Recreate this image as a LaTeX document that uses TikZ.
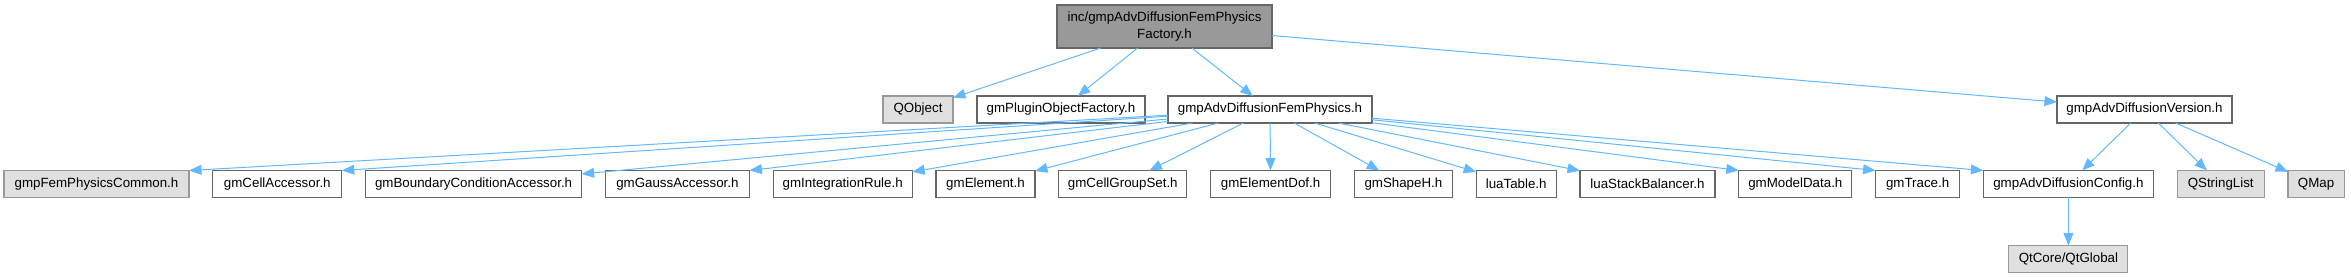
\documentclass[tikz,border=0pt]{standalone}
\usepackage{fontspec}
\setmainfont{Liberation Sans}
\usetikzlibrary{positioning,arrows.meta}
\definecolor{edgeblue}{HTML}{63B8FF}

\begin{document}
\begin{tikzpicture}[
  x=0.75pt, y=-0.75pt,
  font=\fontsize{10}{12.5}\selectfont,
  >={Triangle[length=3.3mm, width=2.6mm]},
  node distance=17.85pt,
  box/.style={draw=black!60, line width=0.8pt, fill=white, align=center,
              inner sep=2pt, outer sep=0pt, minimum height=20.25pt},
  ext/.style={box, draw=black!40, fill=black!12},
  main/.style={box, draw=black!60, fill=black!40, minimum height=32.25pt},
  wd/.style={minimum width=#1*0.75pt},
  arr/.style={->, line width=0.75pt, edgeblue},
]
\useasboundingbox (0,0) rectangle (2351,277);

%% ---------- the documented header ----------
\node[main, wd=215] (root) at (1164.5,26.5) {inc/gmpAdvDiffusionFemPhysics\\Factory.h};

%% ---------- first level ----------
\node[ext, wd=70, anchor=west] (qobj) at (883,109.5) {QObject};
\node[box, wd=168, right=18pt of qobj]     (plugin) {gmPluginObjectFactory.h};
\node[box, wd=204, right=17.25pt of plugin] (fem)   {gmpAdvDiffusionFemPhysics.h};
\node[box, wd=175] (ver) at (2144.5,109.5) {gmpAdvDiffusionVersion.h};

%% ---------- second level (one row, equal gaps) ----------
\node[ext, wd=185, anchor=west] (common) at (4,184) {gmpFemPhysicsCommon.h};
\node[box, wd=129, right=of common]   (cellacc)  {gmCellAccessor.h};
\node[box, wd=216, right=of cellacc]  (bca)      {gmBoundaryConditionAccessor.h};
\node[box, wd=144, right=of bca]      (gauss)    {gmGaussAccessor.h};
\node[box, wd=139, right=of gauss]    (intrule)  {gmIntegrationRule.h};
\node[box, wd=99,  right=of intrule]  (elem)     {gmElement.h};
\node[box, wd=128, right=of elem]     (cgs)      {gmCellGroupSet.h};
\node[box, wd=120, right=of cgs]      (edof)     {gmElementDof.h};
\node[box, wd=98,  right=of edof]     (shape)    {gmShapeH.h};
\node[box, wd=80,  right=of shape]    (luatab)   {luaTable.h};
\node[box, wd=135, right=of luatab]   (luastack) {luaStackBalancer.h};
\node[box, wd=113, right=of luastack] (model)    {gmModelData.h};
\node[box, wd=84,  right=of model]    (trace)    {gmTrace.h};
\node[box, wd=170, right=of trace]    (config)   {gmpAdvDiffusionConfig.h};
\node[ext, wd=87,  right=of config]   (qsl)      {QStringList};
\node[ext, wd=56,  right=of qsl]      (qmap)     {QMap};

%% ---------- third level ----------
\node[ext, wd=119, below=36pt of config] (qtglobal) {QtCore/QtGlobal};

%% ---------- include edges ----------
\draw[arr] (root) -- (qobj);
\draw[arr] (root) -- (plugin);
\draw[arr] (root) -- (fem);
\draw[arr] (root) -- (ver);

%% the far ones land on the near corner of their box
\draw[arr] (fem) -- (common.north east);
\draw[arr] (fem) -- (cellacc.north east);
\draw[arr] (fem) -- (bca);
\draw[arr] (fem) -- (gauss.north east);
\draw[arr] (fem) -- (intrule);
\draw[arr] (fem) -- (elem);
\draw[arr] (fem) -- (cgs);
\draw[arr] (fem) -- (edof);
\draw[arr] (fem) -- (shape);
\draw[arr] (fem) -- (luatab);
\draw[arr] (fem) -- (luastack);
\draw[arr] (fem) -- (model.north west);
\draw[arr] (fem) -- (trace.north west);
\draw[arr] (fem) -- (config.north west);

\draw[arr] (ver) -- (config);
\draw[arr] (ver) -- (qsl);
\draw[arr] (ver) -- (qmap);
\draw[arr] (config) -- (qtglobal);

\end{tikzpicture}
\end{document}
